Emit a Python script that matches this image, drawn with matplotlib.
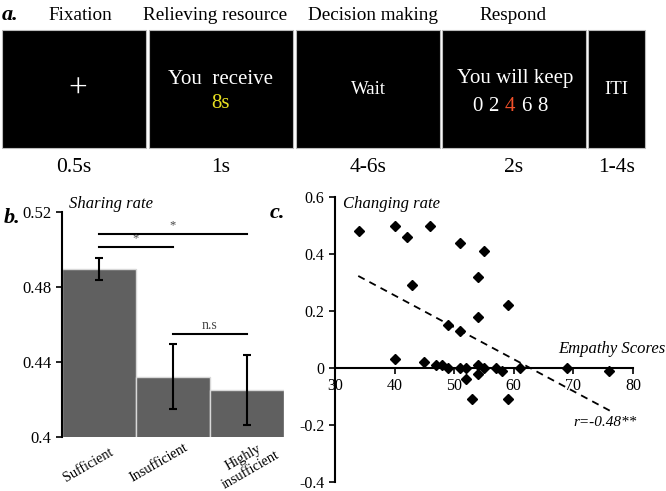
# Figura de tres paneles: paradigma (a), tasa de reparto (b) y correlacion con empatia (c).
import numpy as np
import matplotlib.pyplot as plt
from matplotlib.patches import Rectangle

plt.rcParams['font.family'] = ['Liberation Serif', 'DejaVu Serif']

# --- Datos panel a: secuencia de un ensayo
etapas = ["Fixation", "Relieving resource", "Decision making", "Respond", ""]
duraciones = ["0.5s", "1s", "4-6s", "2s", "1-4s"]

# --- Datos panel b: tasa de reparto por condicion
condiciones = ["Sufficient", "Insufficient", "Highly\ninsufficient"]
tasa_media = [0.4895, 0.432, 0.425]
tasa_error = [0.006, 0.0174, 0.0185]
# comparaciones (i, j, altura, etiqueta)
comparaciones = [(0, 2, 0.508, "*"), (0, 1, 0.501, "*"), (1, 2, 0.4546, "n.s")]

# --- Datos panel c: empatia vs tasa de cambio
empatia = [34, 40, 42, 46, 51, 55, 54, 43, 59, 54, 49, 51,
           40, 45, 47, 48, 49, 51, 52, 52, 53, 54, 54, 55, 57, 58, 59, 61, 69, 76]
cambio = [0.48, 0.50, 0.46, 0.50, 0.44, 0.41, 0.32, 0.29, 0.22, 0.18, 0.15, 0.13,
          0.03, 0.02, 0.01, 0.01, 0.0, 0.0, 0.0, -0.04, -0.11, 0.01, -0.02, 0.0,
          0.0, -0.01, -0.11, 0.0, 0.0, -0.01]
recta_x = [33.9, 76.4]
recta_y = [0.323, -0.153]

fig = plt.figure(figsize=(6.66, 4.91), dpi=100)

# ================= Panel a (coordenadas en pixeles) =================
ax_a = fig.add_axes([0, 1 - 190 / 491, 1, 190 / 491])
ax_a.set_xlim(0, 666)
ax_a.set_ylim(190, 0)
ax_a.axis('off')

cajas = [(2, 146), (149, 293), (296, 440), (442, 586), (588, 645)]
centros_titulo = [80, 215, 373, 513, 616]
for (x0, x1), etapa, dur, xc in zip(cajas, etapas, duraciones, centros_titulo):
    ax_a.add_patch(Rectangle((x0, 30), x1 - x0, 118, facecolor='black',
                             edgecolor='#bbbbbb', linewidth=0.8))
    cx = (x0 + x1) / 2
    ax_a.text(xc, 15, etapa, ha='center', va='center', fontsize=13.8)
    ax_a.text(cx, 168, dur, ha='center', va='center', fontsize=15.5)

ax_a.text(2, 15, "a.", ha='left', va='center', fontsize=16,
          fontweight='bold', fontstyle='italic')

# contenido de cada pantalla
ax_a.text(78, 90, "+", color='white', ha='center', va='center', fontsize=24)
ax_a.text(221, 79, "You  receive", color='white', ha='center', va='center', fontsize=15)
ax_a.text(221, 104, "8s", color='#e8e020', ha='center', va='center', fontsize=15)
ax_a.text(368, 90, "Wait", color='white', ha='center', va='center', fontsize=13.5)
ax_a.text(515, 79, "You will keep", color='white', ha='center', va='center', fontsize=15)
opciones = ["0", "2", "4", "6", "8"]
for k, op in enumerate(opciones):
    col = '#f0502a' if op == "4" else 'white'
    ax_a.text(477 + k * 16.3, 107, op, color=col, ha='center', va='center', fontsize=15)
ax_a.text(616, 90, "ITI", color='white', ha='center', va='center', fontsize=13.5)

# ================= Panel b: barras =================
ax_b = fig.add_axes([62 / 666, 1 - 436.7 / 491, 222 / 666, 225 / 491])
x = np.arange(len(condiciones))
ax_b.bar(x, tasa_media, width=1.0, color='#606060', edgecolor='#d8d8d8',
         linewidth=1.0, bottom=0)
ax_b.errorbar(x, tasa_media, yerr=tasa_error, fmt='none', ecolor='black',
              elinewidth=1.5, capsize=3, capthick=1.5)
ax_b.set_xlim(-0.5, 2.5)
ax_b.set_ylim(0.4, 0.52)
ax_b.set_yticks([0.4, 0.44, 0.48, 0.52])
ax_b.set_yticklabels(["0.4", "0.44", "0.48", "0.52"])
ax_b.tick_params(axis='y', labelsize=12, length=4, width=1.2)
ax_b.set_xticks([])
for s in ['top', 'right', 'bottom']:
    ax_b.spines[s].set_visible(False)
ax_b.spines['left'].set_linewidth(1.5)

# etiquetas de categoria inclinadas (centro de cada etiqueta)
desp_x = [-0.149, -0.189, 0.0]
desp_y = [-0.126, -0.117, -0.121]
for i, cond in enumerate(condiciones):
    ax_b.text(x[i] + desp_x[i], desp_y[i], cond,
              transform=ax_b.get_xaxis_transform(), rotation=30,
              ha='center', va='center', multialignment='center', fontsize=10.2)

for i, j, h, etiqueta in comparaciones:
    ax_b.plot([i, j], [h, h], color='black', linewidth=1.5, clip_on=False)
    ax_b.text((i + j) / 2, h + 0.0015, etiqueta, ha='center', va='bottom',
              fontsize=9 if etiqueta == "*" else 10, color='#444444')

ax_b.text(0.03, 1.035, "Sharing rate", transform=ax_b.transAxes, ha='left',
          va='center', fontsize=12, fontstyle='italic')
fig.text(12 / 666, 1 - 218 / 491, "b.", ha='center', va='center', fontsize=16,
         fontweight='bold', fontstyle='italic')

# ================= Panel c: dispersion =================
ax_c = fig.add_axes([335 / 666, 1 - 482 / 491, 298 / 666, 285 / 491])
ax_c.plot(recta_x, recta_y, color='black', linestyle=(0, (4, 3)), linewidth=1.3)
ax_c.plot(empatia, cambio, linestyle='none', marker='D', markersize=5,
          color='black')
ax_c.set_xlim(30, 80)
ax_c.set_ylim(-0.4, 0.6)
ax_c.set_xticks([30, 40, 50, 60, 70, 80])
ax_c.set_yticks([-0.4, -0.2, 0, 0.2, 0.4, 0.6])
ax_c.set_yticklabels(["-0.4", "-0.2", "0", "0.2", "0.4", "0.6"])
ax_c.spines['bottom'].set_position(('data', 0))
for s in ['top', 'right']:
    ax_c.spines[s].set_visible(False)
ax_c.spines['left'].set_linewidth(1.5)
ax_c.spines['bottom'].set_linewidth(1.5)
ax_c.tick_params(axis='both', labelsize=11.5, length=4, width=1.2)

ax_c.text(343 / 666, 1 - 204 / 491, "Changing rate", transform=fig.transFigure,
          ha='left', va='center', fontsize=12, fontstyle='italic')
ax_c.text(665 / 666, 1 - 349 / 491, "Empathy Scores", transform=fig.transFigure,
          ha='right', va='center', fontsize=12, fontstyle='italic')
ax_c.text(637 / 666, 1 - 422 / 491, "r=-0.48**", transform=fig.transFigure,
          ha='right', va='center', fontsize=11, fontstyle='italic')
fig.text(277 / 666, 1 - 213 / 491, "c.", ha='center', va='center', fontsize=16,
         fontweight='bold', fontstyle='italic')

fig.savefig("out.png", dpi=100)
